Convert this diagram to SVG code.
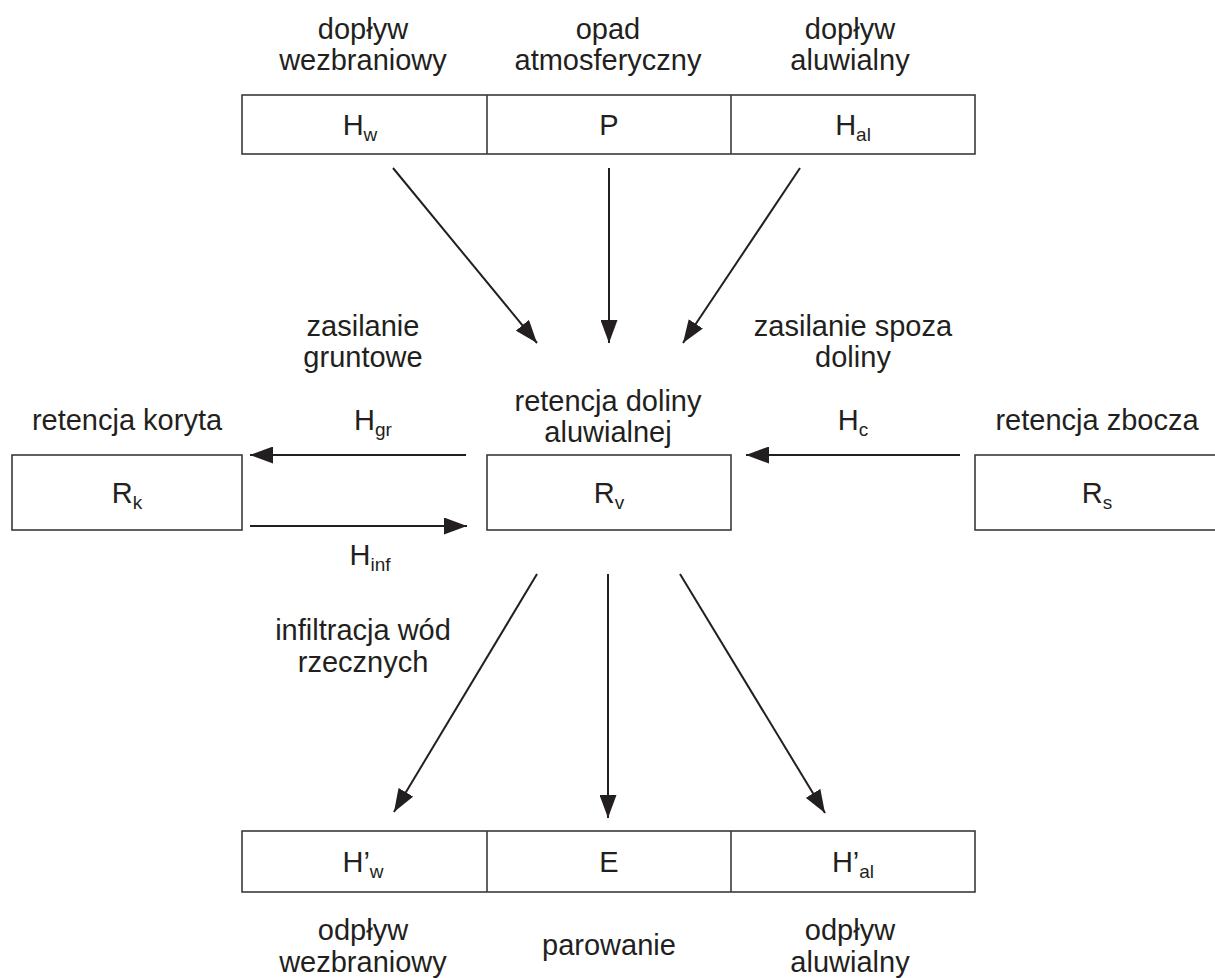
<svg xmlns="http://www.w3.org/2000/svg" width="1215" height="978" viewBox="0 0 1215 978">
<style>
text{font-family:"Liberation Sans",Arial,sans-serif;font-size:29px;fill:#231f20;text-anchor:middle}
.s{font-size:19px}
.box{fill:#fff;stroke:#3a3a3a;stroke-width:1.6}
.c line{stroke:#231f20;stroke-width:2}
</style>
<defs>
<marker id="ah2" markerWidth="23" markerHeight="17" refX="23" refY="8.5" orient="auto" markerUnits="userSpaceOnUse" viewBox="0 0 23 17">
<path d="M0,0 L23,8.5 L0,17 Z" fill="#231f20"/>
</marker>
</defs>
<rect width="1215" height="978" fill="#fff"/>

<g id="top">
<rect class="box" x="242" y="95" width="733" height="59"/>
<line x1="487" y1="95" x2="487" y2="154" stroke="#3a3a3a" stroke-width="1.6"/>
<line x1="731" y1="95" x2="731" y2="154" stroke="#3a3a3a" stroke-width="1.6"/>
</g>
<g id="node-Hw">
<text x="363" y="39">dopływ</text>
<text x="363" y="70">wezbraniowy</text>
<text x="360" y="135">H<tspan class="s" dy="6">w</tspan></text>
</g>
<g id="node-P">
<text x="608" y="39">opad</text>
<text x="608" y="70">atmosferyczny</text>
<text x="609" y="135">P</text>
</g>
<g id="node-Hal">
<text x="850" y="39">dopływ</text>
<text x="850" y="70">aluwialny</text>
<text x="853" y="135">H<tspan class="s" dy="6">al</tspan></text>
</g>

<g id="node-Rk">
<text x="127" y="430">retencja koryta</text>
<rect class="box" x="12" y="455" width="230" height="75"/>
<text x="127" y="503">R<tspan class="s" dy="6">k</tspan></text>
</g>
<g id="node-Rv">
<text x="608" y="411">retencja doliny</text>
<text x="608" y="442">aluwialnej</text>
<rect class="box" x="487" y="455" width="244" height="75"/>
<text x="609" y="503">R<tspan class="s" dy="6">v</tspan></text>
</g>
<g id="node-Rs">
<text x="1097" y="430">retencja zbocza</text>
<rect class="box" x="975" y="455" width="250" height="75"/>
<text x="1097" y="503">R<tspan class="s" dy="6">s</tspan></text>
</g>

<g id="bottom">
<rect class="box" x="242" y="831" width="733" height="61"/>
<line x1="487" y1="831" x2="487" y2="892" stroke="#3a3a3a" stroke-width="1.6"/>
<line x1="731" y1="831" x2="731" y2="892" stroke="#3a3a3a" stroke-width="1.6"/>
</g>
<g id="node-Hw2">
<text x="363" y="872">H’<tspan class="s" dy="6">w</tspan></text>
<text x="363" y="940">odpływ</text>
<text x="363" y="972">wezbraniowy</text>
</g>
<g id="node-E">
<text x="609" y="872">E</text>
<text x="609" y="955">parowanie</text>
</g>
<g id="node-Hal2">
<text x="853" y="872">H’<tspan class="s" dy="6">al</tspan></text>
<text x="850" y="940">odpływ</text>
<text x="850" y="972">aluwialny</text>
</g>

<g id="connectors" class="c">
<line x1="393" y1="168" x2="537" y2="343" marker-end="url(#ah2)"/>
<line x1="609" y1="168" x2="609" y2="343" marker-end="url(#ah2)"/>
<line x1="800" y1="168" x2="683" y2="343" marker-end="url(#ah2)"/>
<line x1="466" y1="455" x2="250" y2="455" marker-end="url(#ah2)"/>
<line x1="250" y1="526" x2="467" y2="526" marker-end="url(#ah2)"/>
<line x1="960" y1="455" x2="746" y2="455" marker-end="url(#ah2)"/>
<line x1="537" y1="574" x2="394" y2="812" marker-end="url(#ah2)"/>
<line x1="608" y1="574" x2="608" y2="818" marker-end="url(#ah2)"/>
<line x1="680" y1="574" x2="825" y2="813" marker-end="url(#ah2)"/>
</g>

<g id="labels">
<text x="363" y="336">zasilanie</text>
<text x="363" y="367">gruntowe</text>
<text x="853" y="336">zasilanie spoza</text>
<text x="853" y="367">doliny</text>
<text x="373" y="430">H<tspan class="s" dy="6">gr</tspan></text>
<text x="853" y="430">H<tspan class="s" dy="6">c</tspan></text>
<text x="370" y="565">H<tspan class="s" dy="6">inf</tspan></text>
<text x="363" y="640">infiltracja wód</text>
<text x="363" y="672">rzecznych</text>
</g>
</svg>
